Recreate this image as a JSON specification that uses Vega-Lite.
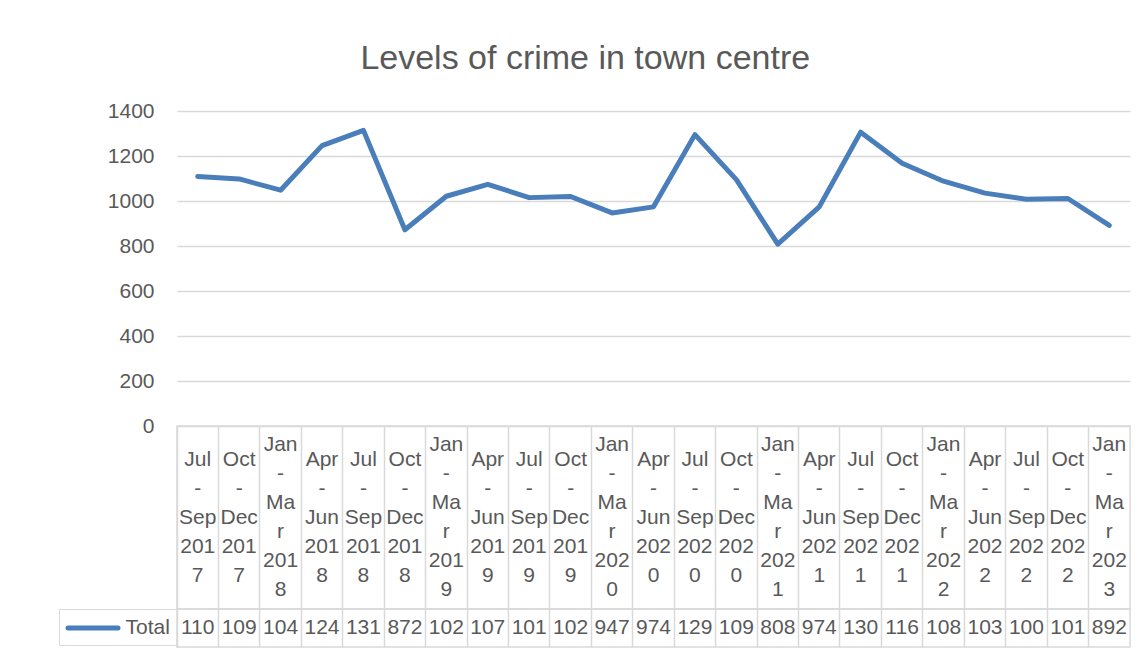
{
  "$schema": "https://vega.github.io/schema/vega-lite/v6.json",
  "background": "white",
  "padding": {"left": 57, "top": 41, "right": 10, "bottom": 0},
  "title": {"text": "Levels of crime in town centre", "fontSize": 34, "fontWeight": "normal", "color": "#595959", "anchor": "middle", "offset": 24.5, "dx": -9, "font": "Liberation Sans"},
  "datasets": {
    "crime": [
      {"period": "Jul - Sep 2017", "value": 1109, "shown": "110", "label": "Jul\n-\nSep\n201\n7", "series": "Total"},
      {"period": "Oct - Dec 2017", "value": 1098, "shown": "109", "label": "Oct\n-\nDec\n201\n7", "series": "Total"},
      {"period": "Jan - Mar 2018", "value": 1048, "shown": "104", "label": "Jan\n-\nMa\nr\n201\n8", "series": "Total"},
      {"period": "Apr - Jun 2018", "value": 1246, "shown": "124", "label": "Apr\n-\nJun\n201\n8", "series": "Total"},
      {"period": "Jul - Sep 2018", "value": 1314, "shown": "131", "label": "Jul\n-\nSep\n201\n8", "series": "Total"},
      {"period": "Oct - Dec 2018", "value": 872, "shown": "872", "label": "Oct\n-\nDec\n201\n8", "series": "Total"},
      {"period": "Jan - Mar 2019", "value": 1021, "shown": "102", "label": "Jan\n-\nMa\nr\n201\n9", "series": "Total"},
      {"period": "Apr - Jun 2019", "value": 1074, "shown": "107", "label": "Apr\n-\nJun\n201\n9", "series": "Total"},
      {"period": "Jul - Sep 2019", "value": 1015, "shown": "101", "label": "Jul\n-\nSep\n201\n9", "series": "Total"},
      {"period": "Oct - Dec 2019", "value": 1020, "shown": "102", "label": "Oct\n-\nDec\n201\n9", "series": "Total"},
      {"period": "Jan - Mar 2020", "value": 947, "shown": "947", "label": "Jan\n-\nMa\nr\n202\n0", "series": "Total"},
      {"period": "Apr - Jun 2020", "value": 974, "shown": "974", "label": "Apr\n-\nJun\n202\n0", "series": "Total"},
      {"period": "Jul - Sep 2020", "value": 1295, "shown": "129", "label": "Jul\n-\nSep\n202\n0", "series": "Total"},
      {"period": "Oct - Dec 2020", "value": 1095, "shown": "109", "label": "Oct\n-\nDec\n202\n0", "series": "Total"},
      {"period": "Jan - Mar 2021", "value": 808, "shown": "808", "label": "Jan\n-\nMa\nr\n202\n1", "series": "Total"},
      {"period": "Apr - Jun 2021", "value": 974, "shown": "974", "label": "Apr\n-\nJun\n202\n1", "series": "Total"},
      {"period": "Jul - Sep 2021", "value": 1306, "shown": "130", "label": "Jul\n-\nSep\n202\n1", "series": "Total"},
      {"period": "Oct - Dec 2021", "value": 1168, "shown": "116", "label": "Oct\n-\nDec\n202\n1", "series": "Total"},
      {"period": "Jan - Mar 2022", "value": 1088, "shown": "108", "label": "Jan\n-\nMa\nr\n202\n2", "series": "Total"},
      {"period": "Apr - Jun 2022", "value": 1035, "shown": "103", "label": "Apr\n-\nJun\n202\n2", "series": "Total"},
      {"period": "Jul - Sep 2022", "value": 1008, "shown": "100", "label": "Jul\n-\nSep\n202\n2", "series": "Total"},
      {"period": "Oct - Dec 2022", "value": 1011, "shown": "101", "label": "Oct\n-\nDec\n202\n2", "series": "Total"},
      {"period": "Jan - Mar 2023", "value": 892, "shown": "892", "label": "Jan\n-\nMa\nr\n202\n3", "series": "Total"}
    ]
  },
  "data": {"name": "crime"},
  "spacing": 0,
  "bounds": "flush",
  "resolve": {"legend": {"color": "independent"}},
  "vconcat": [
    {
      "width": 953,
      "height": 315,
      "mark": {"type": "line", "color": "#4A7EBB", "strokeWidth": 5, "strokeCap": "round", "strokeJoin": "round"},
      "encoding": {
        "x": {"field": "period", "type": "nominal", "sort": null, "scale": {"type": "point", "padding": 0.5}, "axis": null},
        "y": {
          "field": "value", "type": "quantitative",
          "scale": {"domain": [0, 1400], "nice": false},
          "axis": {"values": [0, 200, 400, 600, 800, 1000, 1200, 1400], "format": "d", "title": null, "domain": false, "ticks": false, "tickSize": 0, "labelPadding": 23, "labelFontSize": 21, "labelColor": "#595959", "labelFont": "Liberation Sans", "gridColor": "#d9d9d9", "gridWidth": 1.5}
        }
      }
    },
    {
      "width": 953,
      "height": 183,
      "view": {"stroke": "#d9d9d9", "strokeWidth": 1.5},
      "mark": {"type": "text", "fontSize": 21, "color": "#595959", "lineBreak": "\n", "lineHeight": 29, "baseline": "middle", "align": "center", "font": "Liberation Sans",
               "dy": {"expr": "-(length(split(datum.label, '\\n')) - 1) * 14.5"}},
      "encoding": {
        "x": {"field": "period", "type": "nominal", "sort": null, "scale": {"type": "band", "paddingInner": 0, "paddingOuter": 0}, "bandPosition": 0.5,
              "axis": {"title": null, "labels": false, "ticks": false, "domain": false, "grid": true, "bandPosition": 0, "gridColor": "#d9d9d9", "gridWidth": 1.5}},
        "text": {"field": "label", "type": "nominal"}
      }
    },
    {
      "width": 953,
      "height": 38,
      "view": {"stroke": "#d9d9d9", "strokeWidth": 1.5},
      "layer": [
        {
          "mark": {"type": "text", "fontSize": 21, "color": "#595959", "baseline": "middle", "align": "center", "font": "Liberation Sans"},
          "encoding": {
            "x": {"field": "period", "type": "nominal", "sort": null, "scale": {"type": "band", "paddingInner": 0, "paddingOuter": 0}, "bandPosition": 0.5,
                  "axis": {"title": null, "labels": false, "ticks": false, "domain": false, "grid": true, "bandPosition": 0, "gridColor": "#d9d9d9", "gridWidth": 1.5}},
            "text": {"field": "shown", "type": "nominal"}
          }
        },
        {
          "transform": [{"filter": "datum.period === 'Jul - Sep 2017'"}],
          "mark": {"type": "line", "strokeWidth": 5},
          "encoding": {
            "x": {"field": "period", "type": "nominal", "sort": null},
            "color": {
              "field": "series", "type": "nominal",
              "scale": {"domain": ["Total"], "range": ["#4A7EBB"]},
              "legend": {"orient": "left", "title": null, "offset": 0, "padding": 6.5, "strokeColor": "#d9d9d9", "symbolType": "M-2.5,0H2.5", "symbolSize": 400, "symbolOffset": 15, "symbolStrokeWidth": 5, "labelFontSize": 21, "labelColor": "#595959", "labelOffset": 20, "labelFont": "Liberation Sans",
                         "encode": {"symbols": {"update": {"strokeCap": {"value": "round"}}}}}
            }
          }
        }
      ]
    }
  ],
  "config": {"font": "Liberation Sans", "view": {"stroke": null}}
}
